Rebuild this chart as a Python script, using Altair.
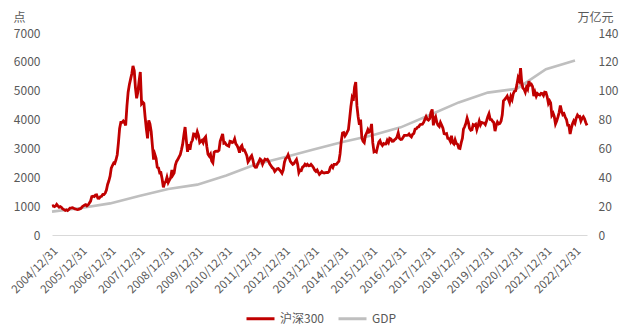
import altair as alt
import pandas as pd

FONT = "Noto Sans CJK SC"

# CSI 300 (沪深300): start value, then two readings per month (15th, month end)
csi_start = 1000
csi_2005 = [1010, 982, 1005, 1061, 1010, 963, 985, 952, 905, 877, 850, 870,
            845, 884, 930, 937, 945, 924, 905, 893, 880, 887, 905, 923]
csi_2006 = [980, 1012, 1040, 1055, 1010, 1044, 1110, 1176, 1330, 1343, 1330, 1383,
            1390, 1273, 1270, 1330, 1340, 1405, 1400, 1454, 1560, 1750, 1870, 2041]
csi_2007 = [2320, 2416, 2500, 2480, 2600, 2781, 3200, 3694, 3900, 3901, 3950, 3898,
            3800, 4471, 4950, 5219, 5400, 5588, 5860, 5689, 5100, 4738, 4950, 5338]
csi_2008 = [5650, 4548, 4600, 4558, 4100, 3681, 3350, 3969, 3850, 3577, 3100, 2616,
            2800, 2654, 2350, 2322, 2150, 2158, 1950, 1650, 1800, 1853, 2000, 1818]
csi_2009 = [1900, 1983, 2250, 2082, 2150, 2427, 2550, 2616, 2700, 2781, 2950, 3140,
            3450, 3740, 3300, 2883, 3150, 2956, 3200, 3280, 3500, 3490, 3400, 3575]
csi_2010 = [3450, 3204, 3250, 3281, 3200, 3346, 3400, 3068, 2800, 2731, 2800, 2564,
            2500, 2868, 2900, 2903, 2900, 2935, 3250, 3378, 3500, 3183, 3200, 3128]
csi_2011 = [3100, 3077, 3250, 3238, 3200, 3222, 3330, 3160, 3100, 3002, 2850, 3045,
            3100, 2937, 2950, 2849, 2750, 2537, 2600, 2695, 2750, 2608, 2400, 2346]
csi_2012 = [2350, 2464, 2550, 2635, 2600, 2455, 2550, 2626, 2600, 2623, 2550, 2462,
            2400, 2333, 2300, 2204, 2250, 2293, 2300, 2254, 2200, 2140, 2250, 2523]
csi_2013 = [2650, 2687, 2780, 2673, 2550, 2495, 2450, 2478, 2550, 2617, 2450, 2164,
            2250, 2234, 2350, 2383, 2450, 2409, 2450, 2396, 2400, 2447, 2400, 2331]
csi_2014 = [2250, 2203, 2250, 2178, 2100, 2146, 2200, 2158, 2150, 2160, 2170, 2165,
            2200, 2350, 2400, 2338, 2450, 2450, 2450, 2508, 2550, 2809, 3250, 3533]
csi_2015 = [3550, 3434, 3500, 3572, 3650, 4051, 4450, 4749, 4650, 5123, 5300, 4473,
            4100, 3816, 4000, 3366, 3250, 3203, 3450, 3534, 3650, 3566, 3600, 3850]
csi_2016 = [3200, 2880, 2900, 2877, 3050, 3218, 3270, 3156, 3100, 3169, 3150, 3154,
            3280, 3204, 3350, 3327, 3250, 3253, 3300, 3336, 3400, 3538, 3350, 3310]
csi_2017 = [3320, 3387, 3450, 3452, 3450, 3456, 3500, 3439, 3400, 3492, 3520, 3666,
            3680, 3737, 3750, 3822, 3830, 3837, 3900, 4006, 4100, 4006, 3980, 4030]
csi_2018 = [4250, 4350, 3800, 4023, 4100, 3899, 3800, 3756, 3900, 3802, 3700, 3510,
            3500, 3517, 3350, 3335, 3250, 3438, 3200, 3153, 3300, 3173, 3150, 3011]
csi_2019 = [3000, 3201, 3350, 3670, 3750, 3872, 4050, 3913, 3700, 3630, 3650, 3825,
            3800, 3836, 3650, 3799, 3950, 3814, 3900, 3886, 3880, 3828, 3950, 4097]
csi_2020 = [4200, 4003, 4000, 3940, 3900, 3600, 3800, 3912, 3850, 3868, 3950, 4164,
            4650, 4695, 4750, 4816, 4700, 4587, 4800, 4695, 4900, 4981, 5000, 5211]
csi_2021 = [5450, 5351, 5780, 5336, 5100, 5048, 4950, 5123, 5050, 5331, 5200, 5224,
            5150, 4811, 4950, 4806, 4900, 4866, 4850, 4908, 4900, 4832, 4950, 4940]
csi_2022 = [4800, 4563, 4650, 4581, 4150, 4222, 4100, 3850, 3950, 4091, 4250, 4485,
            4300, 4170, 4200, 4079, 4000, 3804, 3800, 3500, 3700, 3854, 3950, 3872]
csi_2023 = [4050, 4157, 4100, 4110, 3950, 4051, 4100, 4030, 3900, 3800]

# GDP (万亿元), year-end
gdp_years = list(range(2004, 2023))
gdp_values = [16.2, 18.7, 21.9, 27.0, 31.9, 34.9, 41.2, 48.8, 53.9, 59.3,
              64.4, 68.9, 74.6, 83.2, 91.9, 98.7, 101.4, 114.9, 121.0]

tick_years = list(range(2004, 2023))
series_names = ["沪深300", "GDP"]
series_colors = ["#C00000", "#BFBFBF"]

csi_years = {2005: csi_2005, 2006: csi_2006, 2007: csi_2007, 2008: csi_2008,
             2009: csi_2009, 2010: csi_2010, 2011: csi_2011, 2012: csi_2012,
             2013: csi_2013, 2014: csi_2014, 2015: csi_2015, 2016: csi_2016,
             2017: csi_2017, 2018: csi_2018, 2019: csi_2019, 2020: csi_2020,
             2021: csi_2021, 2022: csi_2022, 2023: csi_2023}

rows = [{"date": pd.Timestamp(2004, 12, 31), "value": csi_start, "series": series_names[0]}]
for yr, vals in csi_years.items():
    for i, v in enumerate(vals):
        m = i // 2 + 1
        if i % 2 == 0:
            d = pd.Timestamp(yr, m, 15)
        else:
            d = pd.Timestamp(yr, m, 1) + pd.offsets.MonthEnd(0)
        rows.append({"date": d, "value": v, "series": series_names[0]})
csi_df = pd.DataFrame(rows)

gdp_df = pd.DataFrame({
    "date": [pd.Timestamp(y, 12, 31) for y in gdp_years],
    "value": gdp_values,
    "series": series_names[1],
})

x_enc = alt.X(
    "date:T",
    scale=alt.Scale(domain=[alt.DateTime(year=2004, month=12, date=31),
                            alt.DateTime(year=2023, month=5, date=31)]),
    axis=alt.Axis(
        title=None,
        values=[alt.DateTime(year=y, month=12, date=31) for y in tick_years],
        format="%Y/%m/%d",
        labelAngle=-45,
        labelAlign="right",
        labelBaseline="middle",
        labelPadding=14,
        labelOffset=4,
        labelFont=FONT,
        labelFontSize=11.5,
        labelColor="#595959",
        labelOverlap=False,
        labelFlush=False,
        ticks=False,
        domainColor="#D9D9D9",
        domainWidth=1,
        grid=False,
    ),
)

color_enc = alt.Color(
    "series:N",
    scale=alt.Scale(domain=series_names, range=series_colors),
    legend=alt.Legend(
        title=None,
        orient="none",
        direction="horizontal",
        legendX=193,
        legendY=270,
        symbolType="stroke",
        symbolSize=784,
        symbolStrokeWidth=3,
        labelFont=FONT,
        labelFontSize=12,
        labelColor="#595959",
        labelOffset=4,
        columnPadding=8,
    ),
)

csi_line = alt.Chart(csi_df).mark_line(strokeWidth=2.8).encode(
    x=x_enc,
    y=alt.Y(
        "value:Q",
        scale=alt.Scale(domain=[0, 7000], nice=False, zero=True),
        axis=alt.Axis(
            orient="left",
            values=list(range(0, 7001, 1000)),
            format="d",
            title="点",
            titleAngle=0,
            titleAlign="left",
            titleBaseline="middle",
            titleX=-39,
            titleY=-16,
            titleFont=FONT,
            titleFontSize=12,
            titleFontWeight="normal",
            titleColor="#595959",
            labelFont=FONT,
            labelFontSize=12,
            labelColor="#595959",
            labelPadding=12,
            ticks=False,
            domain=False,
            grid=False,
        ),
    ),
    color=color_enc,
)

gdp_line = alt.Chart(gdp_df).mark_line(strokeWidth=2.6).encode(
    x=x_enc,
    y=alt.Y(
        "value:Q",
        scale=alt.Scale(domain=[0, 140], nice=False, zero=True),
        axis=alt.Axis(
            orient="right",
            values=list(range(0, 141, 20)),
            format="d",
            title="万亿元",
            titleAngle=0,
            titleAlign="left",
            titleBaseline="middle",
            titleX=-10,
            titleY=-16,
            titleFont=FONT,
            titleFontSize=12,
            titleFontWeight="normal",
            titleColor="#595959",
            labelFont=FONT,
            labelFontSize=12,
            labelColor="#595959",
            labelPadding=11,
            ticks=False,
            domain=False,
            grid=False,
        ),
    ),
    color=color_enc,
)

chart = alt.layer(gdp_line, csi_line).resolve_scale(y="independent").properties(
    width=535,
    height=202,
    autosize=alt.AutoSizeParams(type="none"),
    padding={"left": 44, "top": 25, "right": 36, "bottom": 91},
).configure_view(stroke=None)

chart.save("out.html", embed_options={"renderer": "svg", "actions": False})
